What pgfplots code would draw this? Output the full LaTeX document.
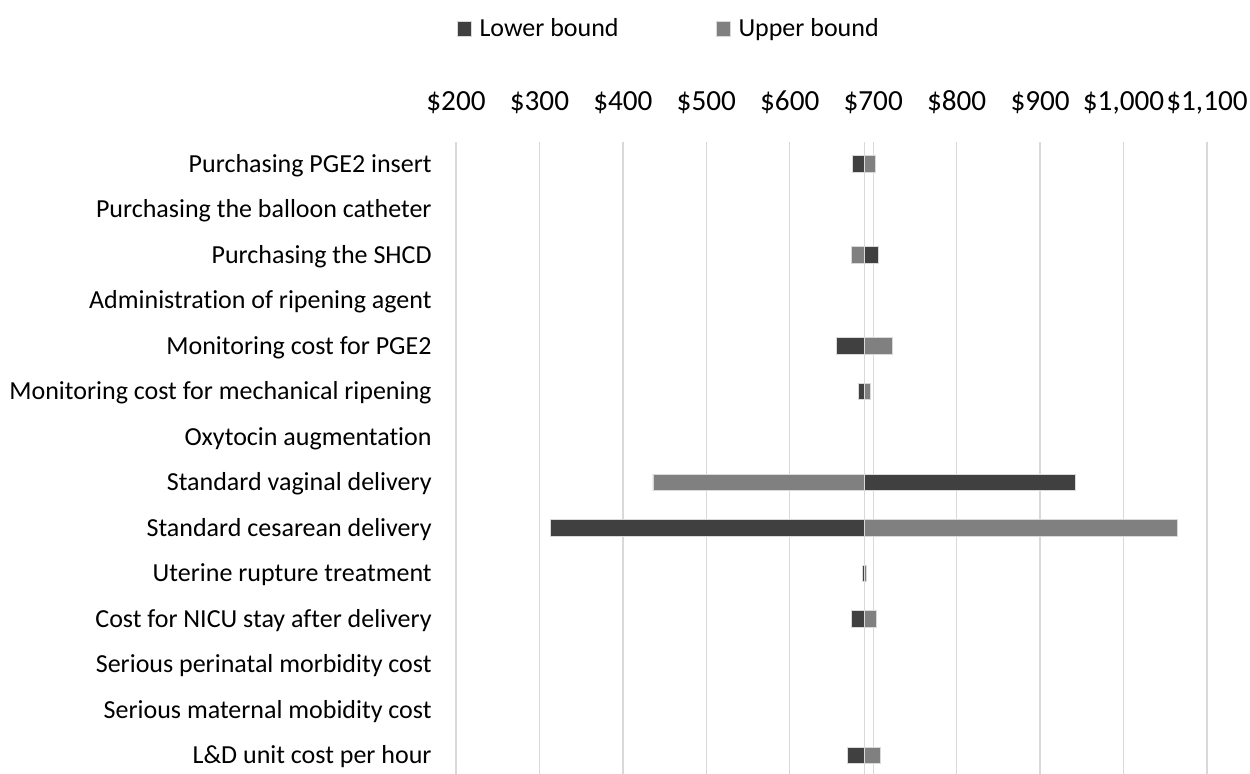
\documentclass[border=0pt]{standalone}
\usepackage{fontspec}
\setmainfont{Carlito}[Ligatures={NoCommon}]
\usepackage{pgfplots}
\usepackage{pgfplotstable}
\pgfplotsset{compat=1.18}
\definecolor{darkbar}{HTML}{404040}
\definecolor{lightbar}{HTML}{808080}
\definecolor{gridc}{HTML}{D9D9D9}
% idx counts from the top row (0) to the bottom row (13); values in dollars
\pgfplotstableread{
idx low high
0 675 703
2 706 674
4 655.5 723.5
5 682 696.5
7 942 436
8 313 1065
9 687.5 691.5
10 674 704
13 669.5 709
}\data
\def\base{689.5}
\begin{document}
\begin{tikzpicture}[x=1pt,y=1pt]
\useasboundingbox (0,0) rectangle (625,386.5);
\begin{axis}[
  at={(228pt,-4.9pt)}, anchor=south west,
  scale only axis, width=375.5pt, height=320.6pt,
  xmin=-489.5, xmax=410.5,
  ymin=-0.6, ymax=13.49,
  xtick={-489.5,-389.5,-289.5,-189.5,-89.5,10.5,110.5,210.5,310.5,410.5},
  xticklabels={\$200,\$300,\$400,\$500,\$600,\$700,\$800,\$900,{\$1,000},{\$1,100}},
  xticklabel pos=upper,
  xticklabel style={anchor=base, yshift=15.35pt, inner sep=0pt, font=\fontsize{14.6}{17}\selectfont},
  ytick={0,...,13},
  yticklabels={L\&D unit cost per hour,
    Serious maternal mobidity cost,
    Serious perinatal morbidity cost,
    Cost for NICU stay after delivery,
    Uterine rupture treatment,
    Standard cesarean delivery,
    Standard vaginal delivery,
    Oxytocin augmentation,
    Monitoring cost for mechanical ripening,
    Monitoring cost for PGE2,
    Administration of ripening agent,
    Purchasing the SHCD,
    Purchasing the balloon catheter,
    Purchasing PGE2 insert},
  yticklabel style={anchor=base east, inner sep=0pt, xshift=-12pt, yshift=-4.2pt, font=\fontsize{13}{15}\selectfont},
  major tick length=0pt,
  axis line style={draw=none},
  xmajorgrids, major grid style={draw=gridc, line width=0.65pt},
  bar width=8.35pt,
  legend columns=2,
  legend style={at={(0.0005,1.1755)}, anchor=west, draw=none, fill=none, inner sep=0pt,
    font=\fontsize{13}{15}\selectfont,
    nodes={inner sep=0pt},
    /tikz/every odd column/.append style={column sep=3.75pt},
    /tikz/every even column/.append style={column sep=48.5pt}},
  legend image code/.code={\fill[#1] (0pt,-3.6pt) rectangle (7.25pt,3.6pt);},
]
\addplot [xbar, bar shift=0pt, fill=darkbar, draw=gridc, line width=0.4pt]
  table [x expr=\thisrow{low}-\base, y expr=13-\thisrow{idx}] {\data};
\addlegendentry{Lower bound}
\addplot [xbar, bar shift=0pt, fill=lightbar, draw=gridc, line width=0.4pt]
  table [x expr=\thisrow{high}-\base, y expr=13-\thisrow{idx}] {\data};
\addlegendentry{Upper bound}
\addplot [sharp plot, draw=gridc, line width=0.65pt, forget plot] coordinates {(0,-0.6) (0,13.49)};
\end{axis}
\end{tikzpicture}
\end{document}
